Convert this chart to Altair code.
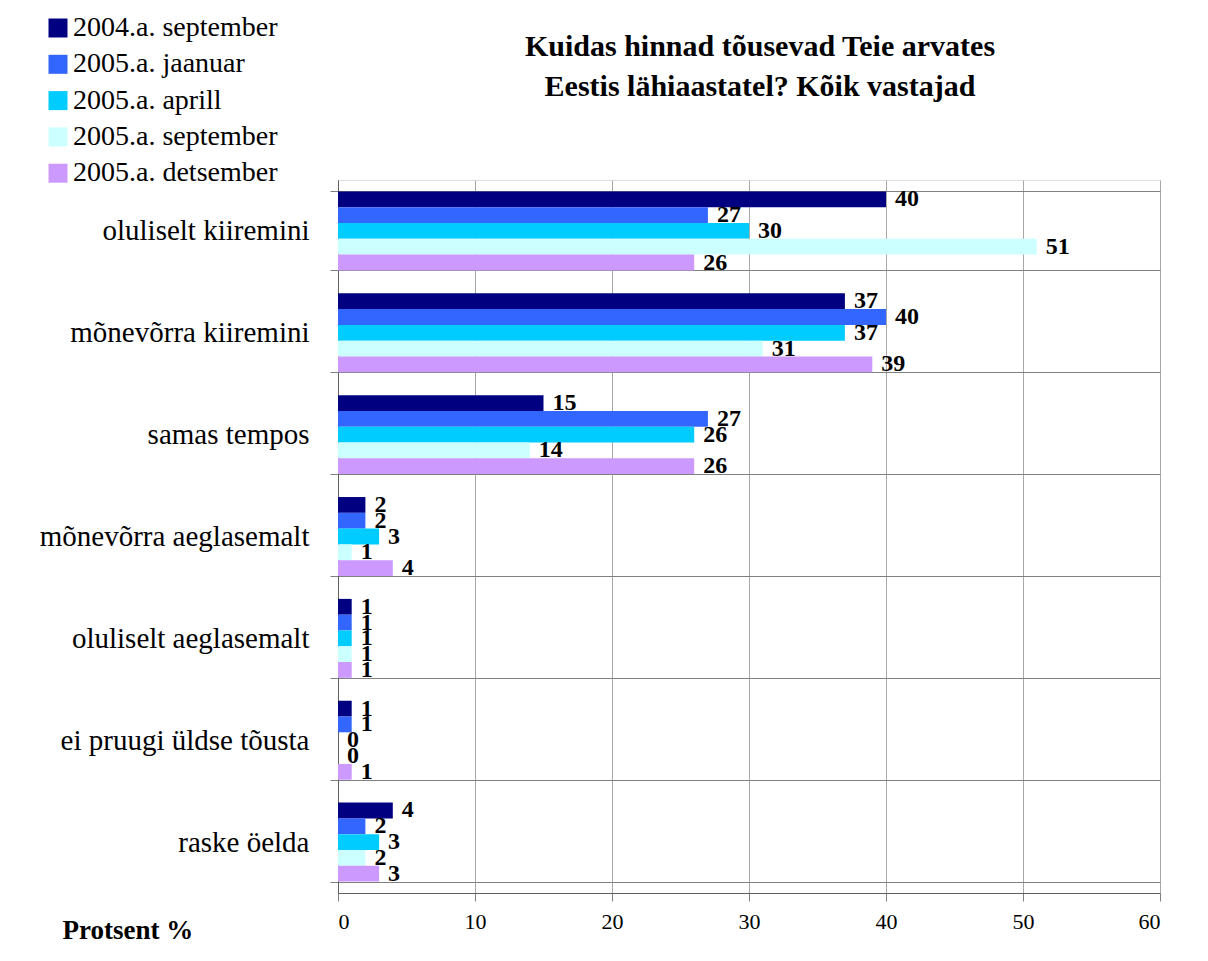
import altair as alt
import pandas as pd

categories = [
    "oluliselt kiiremini",
    "mõnevõrra kiiremini",
    "samas tempos",
    "mõnevõrra aeglasemalt",
    "oluliselt aeglasemalt",
    "ei pruugi üldse tõusta",
    "raske öelda",
]
series = [
    "2004.a. september",
    "2005.a. jaanuar",
    "2005.a. aprill",
    "2005.a. september",
    "2005.a. detsember",
]
colors = ["#000080", "#3366FF", "#00CCFF", "#CCFFFF", "#CC99FF"]

v_2004_sep = [40, 37, 15, 2, 1, 1, 4]
v_2005_jan = [27, 40, 27, 2, 1, 1, 2]
v_2005_apr = [30, 37, 26, 3, 1, 0, 3]
v_2005_sep = [51, 31, 14, 1, 1, 0, 2]
v_2005_dec = [26, 39, 26, 4, 1, 1, 3]

x_ticks = [0, 10, 20, 30, 40, 50, 60]

rows = []
for s, vals in zip(series, [v_2004_sep, v_2005_jan, v_2005_apr, v_2005_sep, v_2005_dec]):
    for c, v in zip(categories, vals):
        rows.append({"kategooria": c, "periood": s, "protsent": v})
df = pd.DataFrame(rows)

FONT = "Liberation Serif"

base = alt.Chart(df).encode(
    y=alt.Y(
        "kategooria:N",
        sort=categories,
        scale=alt.Scale(paddingInner=0.225, paddingOuter=0.1125),
        axis=alt.Axis(
            title=None,
            tickBand="extent",
            grid=True,
            gridColor="#808080",
            gridWidth=1,
            labelFont=FONT,
            labelFontSize=29,
            labelColor="black",
            labelPadding=21,
            labelLimit=400,
            tickSize=8,
            tickColor="#808080",
            domainColor="#606060",
        ),
    ),
    yOffset=alt.YOffset(
        "periood:N", sort=series, scale=alt.Scale(paddingInner=0, paddingOuter=0)
    ),
    x=alt.X(
        "protsent:Q",
        scale=alt.Scale(domain=[0, 60], nice=False),
        axis=alt.Axis(
            values=x_ticks,
            title="Protsent %",
            titleFont=FONT,
            titleFontSize=27,
            titleFontWeight="bold",
            titleColor="black",
            titleAlign="left",
            titleBaseline="middle",
            titleX=-276,
            titleY=37,
            titleAngle=0,
            grid=True,
            gridColor="#a8a8a8",
            labelFont=FONT,
            labelFontSize=22,
            labelColor="black",
            labelPadding=10,
            tickSize=8,
            tickColor="#808080",
            domainColor="#606060",
        ),
    ),
)

bars = base.mark_bar(strokeWidth=0).encode(
    color=alt.Color(
        "periood:N",
        sort=series,
        scale=alt.Scale(domain=series, range=colors),
        legend=alt.Legend(
            title=None,
            orient="none",
            legendX=-294,
            legendY=-166,
            symbolType="square",
            symbolSize=361,
            symbolStrokeWidth=0,
            symbolOpacity=1,
            labelFont=FONT,
            labelFontSize=28,
            labelColor="black",
            labelOffset=1,
            labelLimit=400,
            rowPadding=8.3,
            padding=0,
        ),
    )
)

labels = base.mark_text(
    align="left",
    baseline="middle",
    dx=9,
    font=FONT,
    fontSize=24,
    fontWeight="bold",
    color="black",
).encode(text="protsent:Q")

chart = (
    alt.layer(bars, labels)
    .properties(
        width=822,
        height=713,
        title=alt.TitleParams(
            text=["Kuidas hinnad tõusevad Teie arvates", "Eestis lähiaastatel? Kõik vastajad"],
            font=FONT,
            fontSize=30,
            fontWeight="bold",
            color="black",
            anchor="middle",
            dx=11,
            offset=-88,
            lineHeight=40,
        ),
        autosize=alt.AutoSizeParams(type="none"),
        padding={"left": 330, "top": 172, "right": 30, "bottom": 50},
    )
    .configure_view(stroke="#808080")
    .configure(background="white")
)

chart.save("out.html", embed_options={"renderer": "svg", "actions": False})
